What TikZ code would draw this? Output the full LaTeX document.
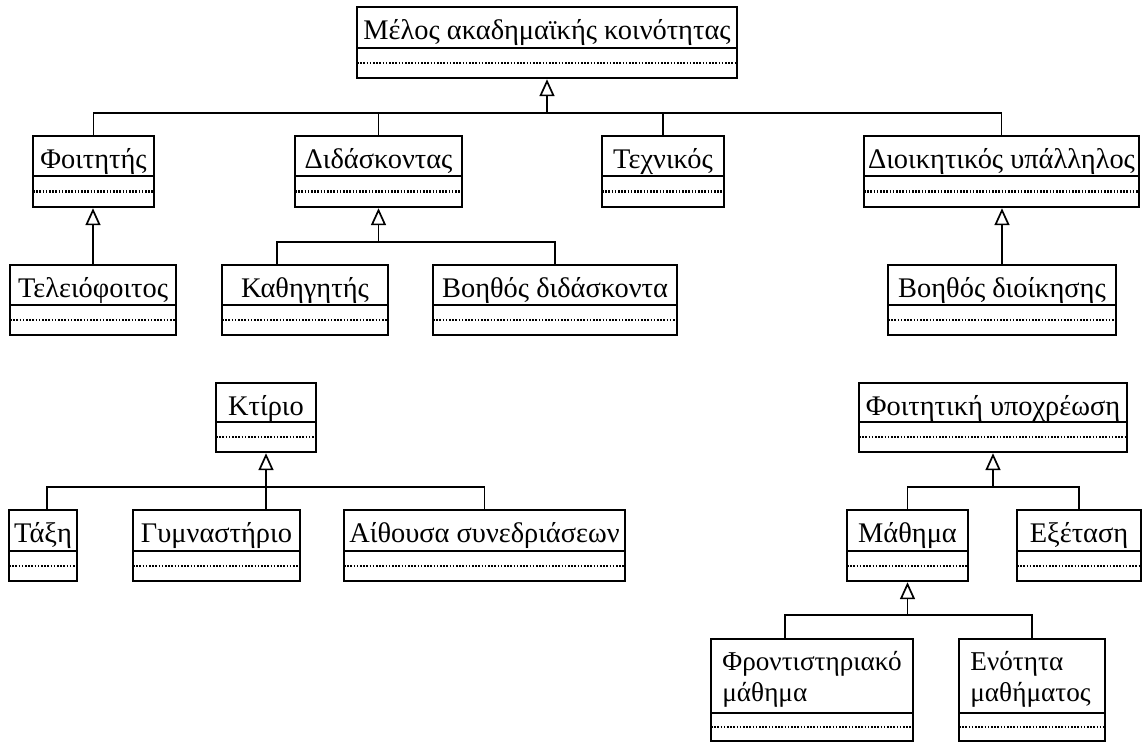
\documentclass[tikz,border=0pt]{standalone}
\usepackage{fontspec}
\setmainfont{Liberation Serif}
\usetikzlibrary{arrows.meta,fit}
\tikzset{
  clsbox/.style={draw, line width=1.2pt, inner sep=0pt, rectangle},
  sepline/.style={line width=1.1pt},
  dotline/.style={line width=1.2pt, dash pattern=on 0.8pt off 0.8pt},
  clstext/.style={font=\fontsize{14.2}{16}\selectfont, inner sep=0pt},
  conn/.style={line width=0.85pt},
  gen/.style={conn, -{Triangle[open, length=8.5pt, width=7.5pt, line width=0.85pt]}},
}
% #1 name, #2 x1, #3 y1, #4 x2, #5 y2, #6 y of name separator, #7 text
\newcommand\umlcls[7]{%
  \coordinate (#1-nw) at (#2,#3);
  \coordinate (#1-se) at (#4,#5);
  \node[clsbox, fit=(#1-nw)(#1-se)] (#1) {};
  \draw[sepline] (#2,#6) -- (#4,#6);
  \draw[dotline] (#2,{(#6+#5)/2}) -- (#4,{(#6+#5)/2});
  \node[clstext, anchor=base] (#1-t) at ({(#2+#4)/2},{#3+32}) {#7};
}
% two-line variant, left aligned
\newcommand\umlclsii[8]{%
  \coordinate (#1-nw) at (#2,#3);
  \coordinate (#1-se) at (#4,#5);
  \node[clsbox, fit=(#1-nw)(#1-se)] (#1) {};
  \draw[sepline] (#2,#6) -- (#4,#6);
  \draw[dotline] (#2,{(#6+#5)/2}) -- (#4,{(#6+#5)/2});
  \node[clstext, font=\fontsize{13.6}{16}\selectfont, anchor=base west] (#1-ta) at ({#2+11},{#3+31}) {#7};
  \node[clstext, font=\fontsize{13.6}{16}\selectfont, anchor=base west] (#1-tb) at ({#2+11},{#3+62}) {#8};
}
\begin{document}
\begin{tikzpicture}[x=0.5pt, y=-0.5pt]
\fill[white] (0,0) rectangle (1145,746);
\useasboundingbox (0,0) rectangle (1145,746);

% top hierarchy
\umlcls{meloc}{357}{7}{737}{78}{48}{Μέλος ακαδημαϊκής κοινότητας}
\umlcls{foit}{33}{136}{154}{207}{176}{Φοιτητής}
\umlcls{didask}{295}{136}{462}{207}{176}{Διδάσκοντας}
\umlcls{techn}{602}{136}{724}{207}{176}{Τεχνικός}
\umlcls{dioik}{864}{136}{1139}{207}{176}{Διοικητικός υπάλληλος}
\umlcls{teleio}{10}{265}{176}{335}{305}{Τελειόφοιτος}
\umlcls{kath}{222}{265}{388}{335}{305}{Καθηγητής}
\umlcls{vdid}{433}{265}{677}{335}{305}{Βοηθός διδάσκοντα}
\umlcls{vdioik}{888}{265}{1116}{335}{305}{Βοηθός διοίκησης}

% buildings
\umlcls{ktirio}{216}{383}{316}{452}{422}{Κτίριο}
\umlcls{taxi}{9}{510}{77}{581}{551}{Τάξη}
\umlcls{gym}{133}{510}{300}{581}{551}{Γυμναστήριο}
\umlcls{aith}{344}{510}{625}{581}{551}{Αίθουσα συνεδριάσεων}

% obligations
\umlcls{foitypo}{859}{383}{1127}{452}{422}{Φοιτητική υποχρέωση}
\umlcls{math}{847}{510}{968}{581}{551}{Μάθημα}
\umlcls{exet}{1017}{510}{1141}{581}{551}{Εξέταση}
\umlclsii{front}{711}{639}{913}{741}{713}{Φροντιστηριακό}{μάθημα}
\umlclsii{enot}{959}{639}{1105}{741}{713}{Ενότητα}{μαθήματος}

% connectors
\coordinate (b1) at (547,113);
\draw[gen] (b1) -- (meloc.south);
\draw[conn] (foit.north) |- (b1);
\draw[conn] (didask.north) |- (b1);
\draw[conn] (techn.north) |- (b1);
\draw[conn] (dioik.north) |- (b1);

\draw[gen] (teleio.north) -- (teleio.north |- foit.south);

\coordinate (b2) at (378.5,242);
\draw[gen] (b2) -- (didask.south);
\draw[conn] (kath.north west) ++(56,0) |- (b2);
\draw[conn] (vdid.north) |- (b2);

\draw[gen] (vdioik.north) -- (vdioik.north |- dioik.south);

\coordinate (b3) at (266,487);
\draw[gen] (gym.north -| ktirio.south) -- (ktirio.south);
\draw[conn] (taxi.north west) ++(39,0) |- (b3);
\draw[conn] (aith.north) |- (b3);

\coordinate (b4) at (993,487);
\draw[gen] (b4) -- (foitypo.south);
\draw[conn] (math.north) |- (b4);
\draw[conn] (exet.north) |- (b4);

\coordinate (b5) at (907.5,615);
\draw[gen] (b5) -- (math.south);
\draw[conn] (front.north west) ++(75,0) |- (b5);
\draw[conn] (enot.north) |- (b5);
\end{tikzpicture}
\end{document}
